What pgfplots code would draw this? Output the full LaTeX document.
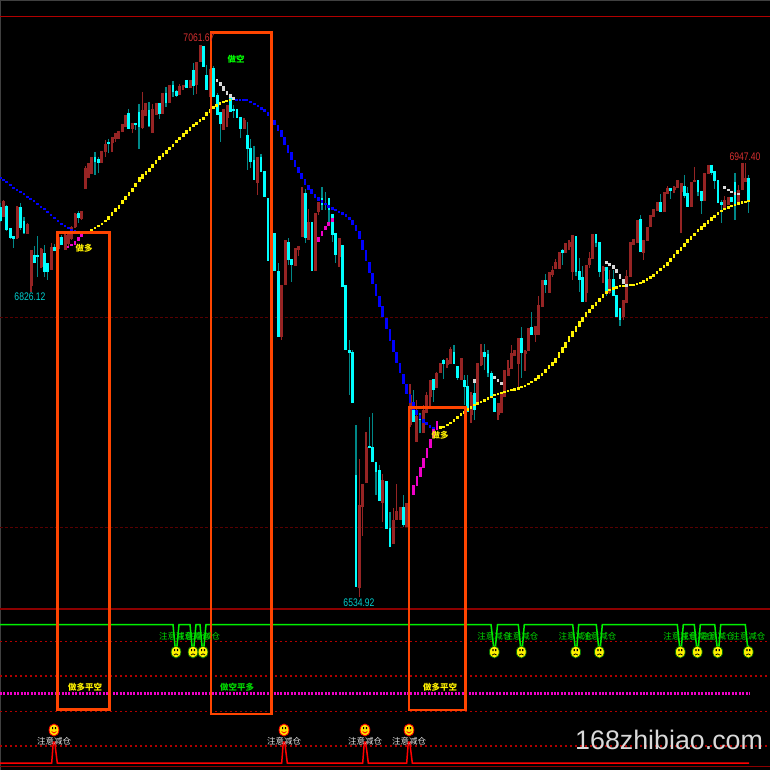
\documentclass[border=0pt]{standalone}
\usepackage{fontspec}
\usepackage{pgfplots}
\usepackage{pgfplotstable}
\pgfplotsset{compat=1.18}
\setmainfont{Liberation Sans}
\newfontfamily\num[FakeStretch=0.78]{Liberation Sans}
\newfontfamily\cjk{Noto Sans CJK SC}
\definecolor{cred}{HTML}{962424}
\definecolor{ccy}{HTML}{00FFFF}
\definecolor{cteal}{HTML}{008888}
\definecolor{ored}{HTML}{FF4500}
\definecolor{mag}{HTML}{F000C8}
\definecolor{ggreen}{HTML}{00F000}
\definecolor{tgreen}{HTML}{00DC00}
\definecolor{lred}{HTML}{D83030}
\definecolor{lcy}{HTML}{00D0D0}

% candles: x, body top, body bottom, high, low (in picture rows)
\pgfplotstableread{
x t b h l
3.3 201 217 200 217
17 207 238 206 239
27.7 224 234 223 234
31 250 286 250 292
41 249 267 248 268
51.3 247 270 243 270
58 237 249 236 250
65 235 250 234 250
68.3 234 244 233 247
71.7 227 239 226 240
75 214 227 213 228
81.7 211 219 211 220
85.7 168 189 166 189
88.3 163 178 163 178
91.7 157 174 157 174
101.7 151 163 151 163
105.3 144 152 140 157
112 137 143 137 152
115.3 133 139 133 142
118.7 131 139 131 139
122.3 124 132 124 132
125.7 115 127 115 127
132.3 123 129 123 133
142.3 110 128 92 129
145.7 103 116 103 116
152.7 109 133 104 133
156 103 115 103 115
162.7 93 114 93 114
169.3 85 103 85 103
179.7 86 95 84 95
183 85 87 85 90
190 80 88 80 88
196.7 62 85 62 94
200 45 62 45 62
210 69 97 69 97
223.7 109 130 109 130
227 105 118 105 127
244 120 129 118 129
257.3 157 183 157 195
271.3 233 262 233 262
281.7 285 337 285 340
285 240 285 240 285
295 248 266 248 266
298.3 246 250 246 256
302 193 237 187 237
308.7 222 240 209 240
315.3 213 271 213 271
318.7 202 212 202 215
339 238 257 238 267
359.3 505 588 459 597
362.7 484 507 484 536
366 447 483 432 483
382.7 480 503 474 522
393.3 520 544 508 544
396.7 511 520 484 520
400 507 520 507 520
406.7 503 527 503 527
410 395 425 384 427
416.7 416 442 400 442
423.3 410 433 405 433
426.7 395 413 392 413
430 380 397 380 406
436.7 373 388 372 388
440.3 363 373 363 373
447 360 365 358 368
450.7 349 364 347 364
461 358 380 358 380
471 395 415 392 423
477.7 363 403 363 403
481 352 365 344 366
498 403 415 403 420
501.3 394 413 392 413
504.7 370 397 370 397
508 368 376 360 376
511.3 353 369 345 369
514.7 350 356 350 356
518.3 338 364 338 388
525 351 354 350 371
528.3 328 351 328 351
535.3 326 335 326 342
538.7 305 335 296 335
542 280 307 280 307
549 272 293 272 293
552.3 270 275 266 277
555.7 262 269 259 269
559 252 269 252 269
565.7 243 253 243 253
569 242 247 240 250
572.7 235 272 235 280
586 265 293 265 302
589.3 258 265 252 268
592.7 234 259 234 259
603 267 271 266 283
609.7 279 293 270 294
623.3 300 317 300 320
626.7 276 303 270 303
630.3 242 277 242 277
633.7 239 245 239 245
637 220 243 220 243
643.7 240 253 240 260
647 227 241 227 241
650.3 215 227 215 227
653.7 209 217 209 217
657 202 211 202 211
664 192 212 192 212
667.3 188 194 186 194
674 187 190 186 193
677.3 180 188 180 188
681 183 192 183 233
691 182 207 182 207
694.3 180 182 167 182
704.7 173 201 173 201
708 165 174 165 174
724.7 200 208 196 208
728.3 197 205 197 205
738.7 190 203 185 203
742 163 190 163 190
745.3 178 182 163 182
}\redtab
\pgfplotstableread{
x t b h l
0.5 207 221 203 222
6.7 206 230 205 231
10.3 228 238 228 239
13.7 236 239 236 248
20.7 207 228 203 230
24 221 233 217 234
34.3 255 263 246 263
37.7 255 257 236 277
44.3 253 272 245 277
47.7 263 272 263 280
54.7 247 251 244 251
61.3 237 245 235 245
78.3 213 218 211 223
95 157 162 152 175
98.3 159 163 157 173
108.7 142 144 139 153
128.7 113 129 109 129
135.7 123 125 123 130
139 112 127 104 149
149 110 126 102 127
159.3 103 114 103 119
166 93 103 87 107
173 85 92 81 97
176.3 91 96 90 97
186.7 80 88 80 88
193.3 70 86 63 95
203.3 46 67 46 67
206.7 75 90 65 90
213.3 68 97 66 97
217.3 95 115 93 115
220.5 112 124 112 142
230.3 97 112 95 112
233.7 109 111 105 118
237 109 118 109 118
240.7 117 129 117 138
247.3 135 149 122 170
250.7 148 162 139 168
254 160 180 146 180
261 157 172 154 172
264.3 171 197 171 197
268 198 261 198 261
274.7 233 271 233 271
278.3 271 337 263 337
288.3 242 260 238 265
291.7 259 265 259 282
305.3 193 238 189 243
312 222 271 222 271
322 198 205 187 210
325.3 203 205 192 210
329 198 210 198 222
332.3 214 235 214 242
335.7 233 255 233 263
342.3 245 287 245 287
345.7 285 350 285 350
349.3 350 353 340 395
352.7 352 403 350 403
356 475 587 425 587
369.3 446 448 417 447
372.7 447 462 413 462
376 462 472 462 495
379.3 470 501 465 501
386.3 481 529 481 529
390 528 547 512 547
403.3 507 525 495 527
413.3 410 422 390 422
420 415 420 413 433
433.3 379 390 379 402
443.7 360 364 359 379
454 352 364 345 364
457.3 366 378 366 380
464.3 380 387 375 405
467.7 386 412 375 412
474.3 393 410 380 420
484.5 352 357 344 370
488 354 373 350 377
491.3 373 397 371 398
494.7 398 412 398 412
521.7 338 353 327 378
531.7 327 335 312 335
545.7 280 285 274 293
562.3 250 253 249 265
576 236 272 236 276
579.3 271 280 258 292
582.7 277 302 266 302
596 234 243 234 247
599.7 242 272 242 277
606.3 267 294 267 296
613.3 279 296 270 296
616.7 295 317 295 317
620 308 320 308 326
640.3 219 252 215 252
660.7 202 212 194 212
670.7 188 191 188 199
684.3 186 196 175 198
687.7 193 207 187 207
698 180 192 180 196
701.3 191 201 191 214
711.3 165 173 165 175
714.7 171 181 171 189
718 180 203 180 203
721.3 202 205 200 223
731.7 197 202 197 202
735 182 205 173 220
748.7 178 202 175 213
}\cytab

% the dotted average: x, row, half the height of the dash
\pgfplotstableread{
x y h
0.3 178 1.2
3.4 180 1.2
6.7 182 1.2
10.3 185 1.3
13.7 188 1.3
17 190 1.2
20.7 192 1.2
24 194 1.2
27.3 197 1.2
30.7 199 1.2
34 201 1.2
37.7 204 1.3
41 207 1.3
44.3 209 1.3
47.7 212 1.4
51 215 1.4
54.7 218 1.4
58 221 1.4
61.3 224 1.3
65 226 1.2
68.3 228 1.2
71.7 230 1.2
75 231 1.2
236.7 100.3 1.2
240 100.3 1.2
243.3 100.3 1.2
246.7 100.3 1.2
250.7 102 1.2
254.3 104 1.3
258 106 1.3
261.3 108.3 1.4
264.7 110.7 1.6
268 114 1.9
271.3 118 2.2
274.7 122.3 2.5
278 127.7 3
281.3 134 3.5
284.7 141.3 3.8
288 149 3.8
291.7 156 3.6
295 163.3 3.4
298.3 170 3.2
301.7 176.3 3
305 182 2.7
308.3 187 2.5
311.7 191.3 2.2
315 195.7 2
318.7 199 1.6
322 201.7 1.4
325.3 204 1.2
328.7 206.3 1.2
332.3 208.3 1.2
335.7 210 1.2
339 211.7 1.2
342.3 213.3 1.2
346 215.7 1.4
349.3 218.3 1.5
352.7 222.3 2.2
356 227.7 3
359.3 235 4.2
362.7 245 5
366 255.7 5.5
369.3 267.3 5.6
372.7 278.3 5.7
376 290 5.7
379.3 301 5.5
382.7 311.7 5.6
386.7 323.3 5.7
390 335 5.6
393.3 346 5.6
396.7 357.3 5.4
400 368 5
403.3 379 5
406.7 389.3 5
410 398.3 4.3
413.3 406 3.6
416.7 412.3 2.8
420 417 2.2
423.3 421 1.8
426.7 423.7 1.4
430 426.3 1.3
433.7 428 1.2
}\blutab
\pgfplotstableread{
x y h
91.7 230 1.2
95 228 1.2
98.7 226 1.2
102 224 1.2
105.3 221 1.4
108.7 218 1.6
112 214 1.8
115.7 210 1.9
119 207 2
122.3 202 2.2
125.7 198 2.2
129 194 2.2
132.3 190 2.2
135.7 185 2.3
139.3 179.3 2.4
142.7 176.7 2.4
146 173 2.2
149.3 169.7 2
152.7 165.7 2
156 161.7 2
159.3 158.3 1.8
163 155 1.7
166.3 152 1.7
169.7 148.3 1.7
173 145.3 1.7
176.3 141.7 1.7
179.7 138.3 1.7
183.3 135 1.6
186.7 132 1.6
190 129 1.6
193.3 126 1.5
196.7 123.3 1.5
200 120.7 1.4
203.3 118.3 1.6
206.7 114.3 1.9
210 110.7 1.9
213.3 107.7 1.5
216.7 105.3 1.3
220 103.7 1.2
223.3 102.3 1.2
226.7 101.3 1.2
230 100.3 1.2
440.3 427.3 1.2
443.7 426.7 1.2
447.3 425 1.2
450.7 422.7 1.2
454 420.7 1.3
457.3 417.7 1.6
461 414.7 1.6
464.3 412.3 1.4
467.7 409.7 1.4
471 407.3 1.3
474.3 405 1.2
477.7 403.3 1.2
481 401.7 1.2
484.3 400.3 1.2
488 398.3 1.2
491.3 396.7 1.2
494.7 395 1.2
498 393.7 1.2
501.3 392.7 1.2
504.7 391.7 1.2
508 391 1.2
511.3 390 1.2
514.7 389.3 1.2
518.3 388.3 1.2
521.7 386.7 1.2
525 385.7 1.2
528.3 384 1.2
531.7 382 1.3
535.3 379.7 1.4
538.7 377 1.6
542 374.3 1.8
545.7 370.7 2
549 367.3 2
552.3 364 2.1
555.7 360 2.5
559 355 2.8
562.3 350.3 3
565.7 345 3.2
569 339.3 3
572.7 334.3 3
576 329 3
579.3 323.7 2.8
582.7 319.3 2.6
586 314.7 2.4
589.3 310.7 2.2
592.7 307.3 2
596 303.7 2
599.7 300 2
603 296.3 2
606.3 292.3 1.8
609.7 290 1.4
613.3 288.3 1.2
616.7 287.3 1.2
620 286 1.2
623.3 285.7 1.2
630.3 285 1.2
633.7 284.7 1.2
637 284 1.2
640.3 282.7 1.2
643.7 281.3 1.2
647 279.3 1.3
650.3 277.3 1.4
653.7 275 1.5
657 272.3 1.6
660.7 269.3 1.7
664 266.7 1.7
667.3 264 1.9
670.7 260 2.2
674 256 2.3
677.3 252 2.1
681 248.7 2.1
684.3 244.7 2.1
687.7 241 2
691 237.7 1.8
694.3 234.3 1.8
698 230.7 1.7
701.3 228 1.6
704.7 225 1.6
708 222 1.6
711.3 219 1.6
714.7 216 1.5
718 213.7 1.4
721.3 211 1.4
724.7 209 1.2
728.3 207.3 1.2
731.7 206 1.2
735 204.7 1.2
738.7 203.3 1.2
742 202.3 1.2
745.3 201.7 1.2
748.7 200.7 1.2
}\yeltab
\pgfplotstableread{
x y h
68 247 1.3
71.7 245 1.4
75 243 1.8
78.3 239 2.3
81.7 235 2.3
318.7 239 2.5
322 233 2.5
325.3 228 2.4
328.7 224 2.3
332.3 220 1.8
413.7 490 4.8
417 481 4.8
420.3 471.7 4.8
423.7 462.7 4.8
427 453 4.8
430.3 443.3 4.8
433.7 433.3 4.8
437 425.7 4.6
}\magtab
\pgfplotstableread{
x y h
217 80.3 1.6
220.3 84 2
223.7 88.7 2.2
227 92.7 2
230.3 96 1.7
233.7 98.7 1.5
474.5 381 1.6
494.7 377.3 1.6
498 380.5 1.6
501.3 383.8 1.6
606.3 262.3 1.4
609.7 264.3 1.4
613.3 267 1.9
616.7 271 2.3
620 276.3 2.6
623.3 281.5 2.6
626.7 285 1.5
724.7 187.7 1.4
728.3 190 1.2
731.7 191.7 1.2
735 193.3 1.2
738.7 194 1.2
}\whitab

\pgfdeclareplotmark{frown}{%
  \pgfsetlinewidth{0.7pt}\pgfsetstrokecolor{black!55!green}\pgfsetfillcolor{yellow}%
  \pgfpathellipse{\pgfpointorigin}{\pgfqpoint{4.9pt}{0pt}}{\pgfqpoint{0pt}{6pt}}\pgfusepath{fill,stroke}%
  \pgfsetfillcolor{black}\pgfsetstrokecolor{black}%
  \pgfpathrectangle{\pgfqpoint{-2pt}{1pt}}{\pgfqpoint{1.2pt}{2pt}}%
  \pgfpathrectangle{\pgfqpoint{0.9pt}{1pt}}{\pgfqpoint{1.2pt}{2pt}}\pgfusepath{fill}%
  \pgfpathmoveto{\pgfqpoint{-2.2pt}{-3pt}}\pgfpathcurveto{\pgfqpoint{-1pt}{-1.5pt}}{\pgfqpoint{1pt}{-1.5pt}}{\pgfqpoint{2.2pt}{-3pt}}\pgfusepath{stroke}%
}
\pgfdeclareplotmark{smile}{%
  \pgfsetlinewidth{0.8pt}\pgfsetstrokecolor{red}\pgfsetfillcolor{yellow!85!orange}%
  \pgfpathellipse{\pgfpointorigin}{\pgfqpoint{4.9pt}{0pt}}{\pgfqpoint{0pt}{6pt}}\pgfusepath{fill,stroke}%
  \pgfsetfillcolor{black}\pgfsetstrokecolor{red}%
  \pgfpathrectangle{\pgfqpoint{-2pt}{1pt}}{\pgfqpoint{1.2pt}{2pt}}%
  \pgfpathrectangle{\pgfqpoint{0.9pt}{1pt}}{\pgfqpoint{1.2pt}{2pt}}\pgfusepath{fill}%
  \pgfpathmoveto{\pgfqpoint{-2.4pt}{-1.5pt}}\pgfpathcurveto{\pgfqpoint{-1pt}{-3.5pt}}{\pgfqpoint{1pt}{-3.5pt}}{\pgfqpoint{2.4pt}{-1.5pt}}\pgfusepath{stroke}%
}
\newcommand\candles[4]{% table, body colour, wick colour
  \addplot[draw=none,mark=none,forget plot,error bars/.cd,y dir=plus,y explicit,error mark=none,
    error bar style={#3,line width=1.2pt}] table[x=x,y=h,y error expr=\thisrow{l}-\thisrow{h}]{#1};
  \addplot[draw=none,mark=none,forget plot,error bars/.cd,y dir=plus,y explicit,error mark=none,
    error bar style={#2,line width=#4}] table[x=x,y=t,y error expr=\thisrow{b}-\thisrow{t}]{#1};
}
\newcommand\dashes[2]{%
  \addplot[draw=none,mark=none,forget plot,error bars/.cd,y dir=both,y explicit,error mark=none,
    error bar style={#2,line width=2.9pt}] table[x=x,y=y,y error=h]{#1};
}
\newcommand\cjklab[4]{\node[text=#1,font={\fontsize{8.5pt}{9pt}\selectfont\cjk #4},inner sep=0pt] at (axis cs:#2) {#3};}
\newcommand\numlab[3]{\node[text=#1,font={\fontsize{11pt}{12pt}\selectfont\num},inner sep=0pt] at (axis cs:#2) {#3};}

\begin{document}
\begin{tikzpicture}
\begin{axis}[
  width=770pt,height=770pt,scale only axis,
  xmin=0,xmax=770,ymin=0,ymax=770,y dir=reverse,
  ticks=none,axis line style={draw=none},
  axis background/.style={fill=black},
]
% frame and horizontal rules
\addplot[color=black!75!white,line width=1pt,forget plot] coordinates {(0.5,770)(0.5,0.5)(770,0.5)};
\addplot[color=red!70!black,line width=1.2pt,forget plot] coordinates {(0,16.3)(770,16.3)};
\addplot[color=red!55!black,line width=1.6pt,forget plot] coordinates {(0,608.7)(770,608.7)};
\addplot[color=red!35!black,line width=1pt,dash pattern=on 2.5pt off 2.5pt,forget plot] coordinates {(0,317)(770,317)};
\addplot[color=red!35!black,line width=1pt,dash pattern=on 2.5pt off 2.5pt,forget plot] coordinates {(0,527)(770,527)};
\addplot[color=red!70!black,line width=1.1pt,dash pattern=on 2pt off 3pt,forget plot] coordinates {(0,641.5)(770,641.5)};
\addplot[color=red!70!black,line width=1.1pt,dash pattern=on 2pt off 3pt,forget plot] coordinates {(0,676)(770,676)};
\addplot[color=red!70!black,line width=1.1pt,dash pattern=on 2pt off 3pt,forget plot] coordinates {(0,711.5)(770,711.5)};
\addplot[color=red!70!black,line width=1.1pt,dash pattern=on 2pt off 3pt,forget plot] coordinates {(0,746)(770,746)};
\addplot[color=red!55!black,line width=1.2pt,forget plot] coordinates {(0,766.7)(770,766.7)};
% candles
\candles{\redtab}{cred}{cred}{3pt}
\candles{\cytab}{ccy}{cteal}{2.8pt}
% average
\dashes{\blutab}{blue}
\dashes{\yeltab}{yellow}
\dashes{\magtab}{mag}
\dashes{\whitab}{black!15!white}
% lower panel: green state line
\addplot[color=ggreen,line width=1.5pt,forget plot] coordinates {
 (0,624.5)(173,624.5)(175,646)(177,646)(179,624.5)(190,624.5)(192,646)(194,646)(196,624.5)(200,624.5)(202,646)(204,646)(206,624.5)
 (491,624.5)(493.5,646)(495.5,646)(497.5,624.5)(518.3,624.5)(520.5,646)(522.5,646)(524.3,624.5)
 (572.7,624.5)(575,646)(577,646)(578.7,624.5)(596.3,624.5)(598.5,646)(600.5,646)(602.3,624.5)
 (677.3,624.5)(679.5,646)(681.5,646)(683.3,624.5)(694.3,624.5)(696.5,646)(698.5,646)(700.3,624.5)
 (714.7,624.5)(717,646)(719,646)(720.7,624.5)(745.3,624.5)(747.5,646)(749,646)};
% magenta dotted level
\addplot[color=mag,line width=2.5pt,dash pattern=on 2pt off 1.42pt,forget plot] coordinates {(0,693.7)(749,693.7)};
% red baseline and spikes
\addplot[color=red,line width=1.5pt,forget plot] coordinates {
 (0,763)(51.7,763)(53.3,742)(54.7,742)(57.3,763)(281.7,763)(283.3,742)(284.7,742)(287.3,763)
 (362.7,763)(364.3,742)(365.7,742)(368.3,763)(406.7,763)(408.3,742)(409.7,742)(412.3,763)(749,763)};
% orange boxes
\addplot[color=ored,line width=2.6pt,forget plot] coordinates {(57.3,232.5)(109.3,232.5)(109.3,709.7)(57.3,709.7)(57.3,232.5)(109.3,232.5)};
\addplot[color=ored,line width=2.6pt,forget plot] coordinates {(211,32.3)(271.3,32.3)(271.3,714)(211,714)(211,32.3)(271.3,32.3)};
\addplot[color=ored,line width=2.6pt,forget plot] coordinates {(409,407.7)(465.7,407.7)(465.7,710)(409,710)(409,407.7)(465.7,407.7)};
% faces
\addplot[only marks,mark=frown,forget plot] coordinates {(176,652)(193,652)(203,652)(494.3,652)(521.3,652)(575.7,652)(599.3,652)(680.3,652)(697.3,652)(717.7,652)(748.3,652)};
\addplot[only marks,mark=smile,forget plot] coordinates {(54,730)(284,730)(365,730)(409,730)};
% text
\numlab{lred}{199,38}{7061.67}
\numlab{lred}{745,157}{6947.40}
\numlab{lcy}{30,297}{6826.12}
\numlab{lcy}{359,603}{6534.92}
\cjklab{yellow}{84,248}{做多}{\bfseries}
\cjklab{yellow}{440,435}{做多}{\bfseries}
\cjklab{green}{236,59}{做空}{\bfseries}
\cjklab{yellow}{85,687.5}{做多平空}{\bfseries}
\cjklab{green!85!black}{237,687.5}{做空平多}{\bfseries}
\cjklab{yellow}{440,687.5}{做多平空}{\bfseries}
\cjklab{black!10!white}{54,741}{注意减仓}{}
\cjklab{black!10!white}{284,741}{注意减仓}{}
\cjklab{black!10!white}{365,741}{注意减仓}{}
\cjklab{black!10!white}{409,741}{注意减仓}{}
\cjklab{tgreen}{176,636}{注意减仓}{}
\cjklab{tgreen}{193,636}{注意减仓}{}
\cjklab{tgreen}{203,636}{注意减仓}{}
\cjklab{tgreen}{494.3,636}{注意减仓}{}
\cjklab{tgreen}{521.3,636}{注意减仓}{}
\cjklab{tgreen}{575.7,636}{注意减仓}{}
\cjklab{tgreen}{599.3,636}{注意减仓}{}
\cjklab{tgreen}{680.3,636}{注意减仓}{}
\cjklab{tgreen}{697.3,636}{注意减仓}{}
\cjklab{tgreen}{717.7,636}{注意减仓}{}
\cjklab{tgreen}{748.3,636}{注意减仓}{}
\node[text=black!15!white,font=\fontsize{26.8pt}{28pt}\selectfont,inner sep=0pt,anchor=base west] at (axis cs:575,749.5) {168zhibiao.com};
\end{axis}
\end{tikzpicture}
\end{document}
